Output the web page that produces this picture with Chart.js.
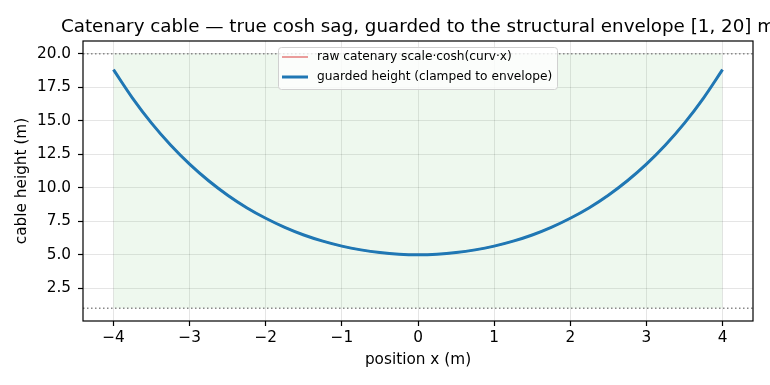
<!DOCTYPE html>
<html>
<head>
<meta charset="utf-8">
<script src="https://cdn.jsdelivr.net/npm/chart.js@4/dist/chart.umd.min.js"></script>
<style>
  body { margin: 0; background: #fff; }
  canvas { display: block; }
</style>
</head>
<body>
<canvas id="cableChart" width="770" height="385"></canvas>
<script>
// positions along the span (m) and heights (m)
const positions = [-4, -3.75, -3.5, -3.25, -3, -2.75, -2.5, -2.25, -2, -1.75, -1.5, -1.25, -1, -0.75, -0.5, -0.25,
  0, 0.25, 0.5, 0.75, 1, 1.25, 1.5, 1.75, 2, 2.25, 2.5, 2.75, 3, 3.25, 3.5, 3.75, 4];
const rawHeights = [18.81, 16.69, 14.82, 13.19, 11.76, 10.52, 9.44, 8.51, 7.72, 7.04, 6.47, 6.01, 5.64, 5.36, 5.16, 5.04,
  5.00, 5.04, 5.16, 5.36, 5.64, 6.01, 6.47, 7.04, 7.72, 8.51, 9.44, 10.52, 11.76, 13.19, 14.82, 16.69, 18.81];
const guardedHeights = [18.81, 16.69, 14.82, 13.19, 11.76, 10.52, 9.44, 8.51, 7.72, 7.04, 6.47, 6.01, 5.64, 5.36, 5.16, 5.04,
  5.00, 5.04, 5.16, 5.36, 5.64, 6.01, 6.47, 7.04, 7.72, 8.51, 9.44, 10.52, 11.76, 13.19, 14.82, 16.69, 18.81];
const envelope = [1, 20];
const spanEnds = [-4, 4];
const xTicks = [-4, -3, -2, -1, 0, 1, 2, 3, 4];
const yTicks = [2.5, 5, 7.5, 10, 12.5, 15, 17.5, 20];
const xRange = [-4.4, 4.4];
const yRange = [0.05, 20.95];

const FONT = 'DejaVu Sans';
const titleText = 'Catenary cable \u2014 true cosh sag, guarded to the structural envelope [1, 20] m';
const RAW_COLOR = 'rgba(214,39,40,0.5)';
const BLUE = '#1f77b4';

const legendItems = [
  { label: 'raw catenary scale\u00b7cosh(curv\u00b7x)', color: RAW_COLOR, width: 1.8 },
  { label: 'guarded height (clamped to envelope)', color: BLUE, width: 3 }
];

const toPoints = (xs, ys) => xs.map((x, i) => ({ x: x, y: ys[i] }));

// title, frame and legend in matplotlib style
const extrasPlugin = {
  id: 'extras',
  afterDraw(chart) {
    const ctx = chart.ctx;
    const area = chart.chartArea;
    ctx.save();
    // frame
    ctx.strokeStyle = '#000';
    ctx.lineWidth = 1.2;
    ctx.strokeRect(area.left, area.top, area.right - area.left, area.bottom - area.top);
    // title
    ctx.fillStyle = '#000';
    ctx.font = '18.3px "' + FONT + '"';
    ctx.textAlign = 'center';
    ctx.textBaseline = 'alphabetic';
    ctx.fillText(titleText, (area.left + area.right) / 2, 32);
    // legend
    const bx = 278, by = 47, bw = 279, bh = 42;
    ctx.fillStyle = 'rgba(255,255,255,0.8)';
    ctx.strokeStyle = '#d0d0d0';
    ctx.lineWidth = 1;
    ctx.beginPath();
    ctx.roundRect(bx + 0.5, by + 0.5, bw, bh, 3);
    ctx.fill();
    ctx.stroke();
    ctx.font = '12.2px "' + FONT + '"';
    ctx.textAlign = 'left';
    ctx.textBaseline = 'middle';
    legendItems.forEach((item, i) => {
      const y = by + 10 + i * 20;
      ctx.strokeStyle = item.color;
      ctx.lineWidth = item.width;
      ctx.beginPath();
      ctx.moveTo(bx + 4, y);
      ctx.lineTo(bx + 30, y);
      ctx.stroke();
      ctx.fillStyle = '#000';
      ctx.fillText(item.label, bx + 39, y);
    });
    ctx.restore();
  }
};

const ctx = document.getElementById('cableChart').getContext('2d');
new Chart(ctx, {
  type: 'line',
  data: {
    datasets: [
      {
        // structural envelope band
        data: toPoints(spanEnds, [envelope[1], envelope[1]]),
        borderWidth: 0,
        pointRadius: 0,
        backgroundColor: 'rgba(44,160,44,0.08)',
        fill: { value: envelope[0] },
        order: 4
      },
      {
        data: toPoints(xRange, [envelope[0], envelope[0]]),
        borderColor: '#888888',
        borderWidth: 1.5,
        borderDash: [1.5, 2.5],
        pointRadius: 0,
        fill: false,
        order: 3
      },
      {
        data: toPoints(xRange, [envelope[1], envelope[1]]),
        borderColor: '#888888',
        borderWidth: 1.5,
        borderDash: [1.5, 2.5],
        pointRadius: 0,
        fill: false,
        order: 3
      },
      {
        label: legendItems[0].label,
        data: toPoints(positions, rawHeights),
        borderColor: RAW_COLOR,
        borderWidth: 1.8,
        pointRadius: 0,
        cubicInterpolationMode: 'monotone',
        fill: false,
        order: 2
      },
      {
        label: legendItems[1].label,
        data: toPoints(positions, guardedHeights),
        borderColor: BLUE,
        borderWidth: 3,
        pointRadius: 0,
        cubicInterpolationMode: 'monotone',
        fill: false,
        order: 1
      }
    ]
  },
  options: {
    responsive: false,
    animation: false,
    devicePixelRatio: 1,
    layout: { padding: { left: 0, right: 17, top: 41, bottom: 0 } },
    plugins: {
      legend: { display: false },
      title: { display: false },
      tooltip: { enabled: false }
    },
    scales: {
      x: {
        type: 'linear',
        min: xRange[0],
        max: xRange[1],
        afterBuildTicks: (scale) => { scale.ticks = xTicks.map(v => ({ value: v })); },
        afterFit: (scale) => { scale.height = 64; },
        grid: { color: 'rgba(0,0,0,0.1)', tickColor: '#000', tickLength: 5, tickWidth: 1.2 },
        border: { display: false },
        ticks: {
          color: '#000',
          font: { family: FONT, size: 15.3 },
          padding: 3,
          maxRotation: 0,
          callback: (v) => String(v).replace('-', '\u2212')
        },
        title: {
          display: true,
          text: 'position x (m)',
          color: '#000',
          font: { family: FONT, size: 15.3 },
          padding: { top: 0, bottom: 16 }
        }
      },
      y: {
        type: 'linear',
        min: yRange[0],
        max: yRange[1],
        afterBuildTicks: (scale) => { scale.ticks = yTicks.map(v => ({ value: v })); },
        afterFit: (scale) => { scale.width = 83; },
        grid: { color: 'rgba(0,0,0,0.1)', tickColor: '#000', tickLength: 5, tickWidth: 1.2 },
        border: { display: false },
        ticks: {
          color: '#000',
          font: { family: FONT, size: 15.3 },
          padding: 7,
          callback: (v) => v.toFixed(1)
        },
        title: {
          display: true,
          text: 'cable height (m)',
          color: '#000',
          font: { family: FONT, size: 15.3 },
          padding: { top: 13, bottom: 0 }
        }
      }
    }
  },
  plugins: [extrasPlugin]
});
</script>
</body>
</html>
